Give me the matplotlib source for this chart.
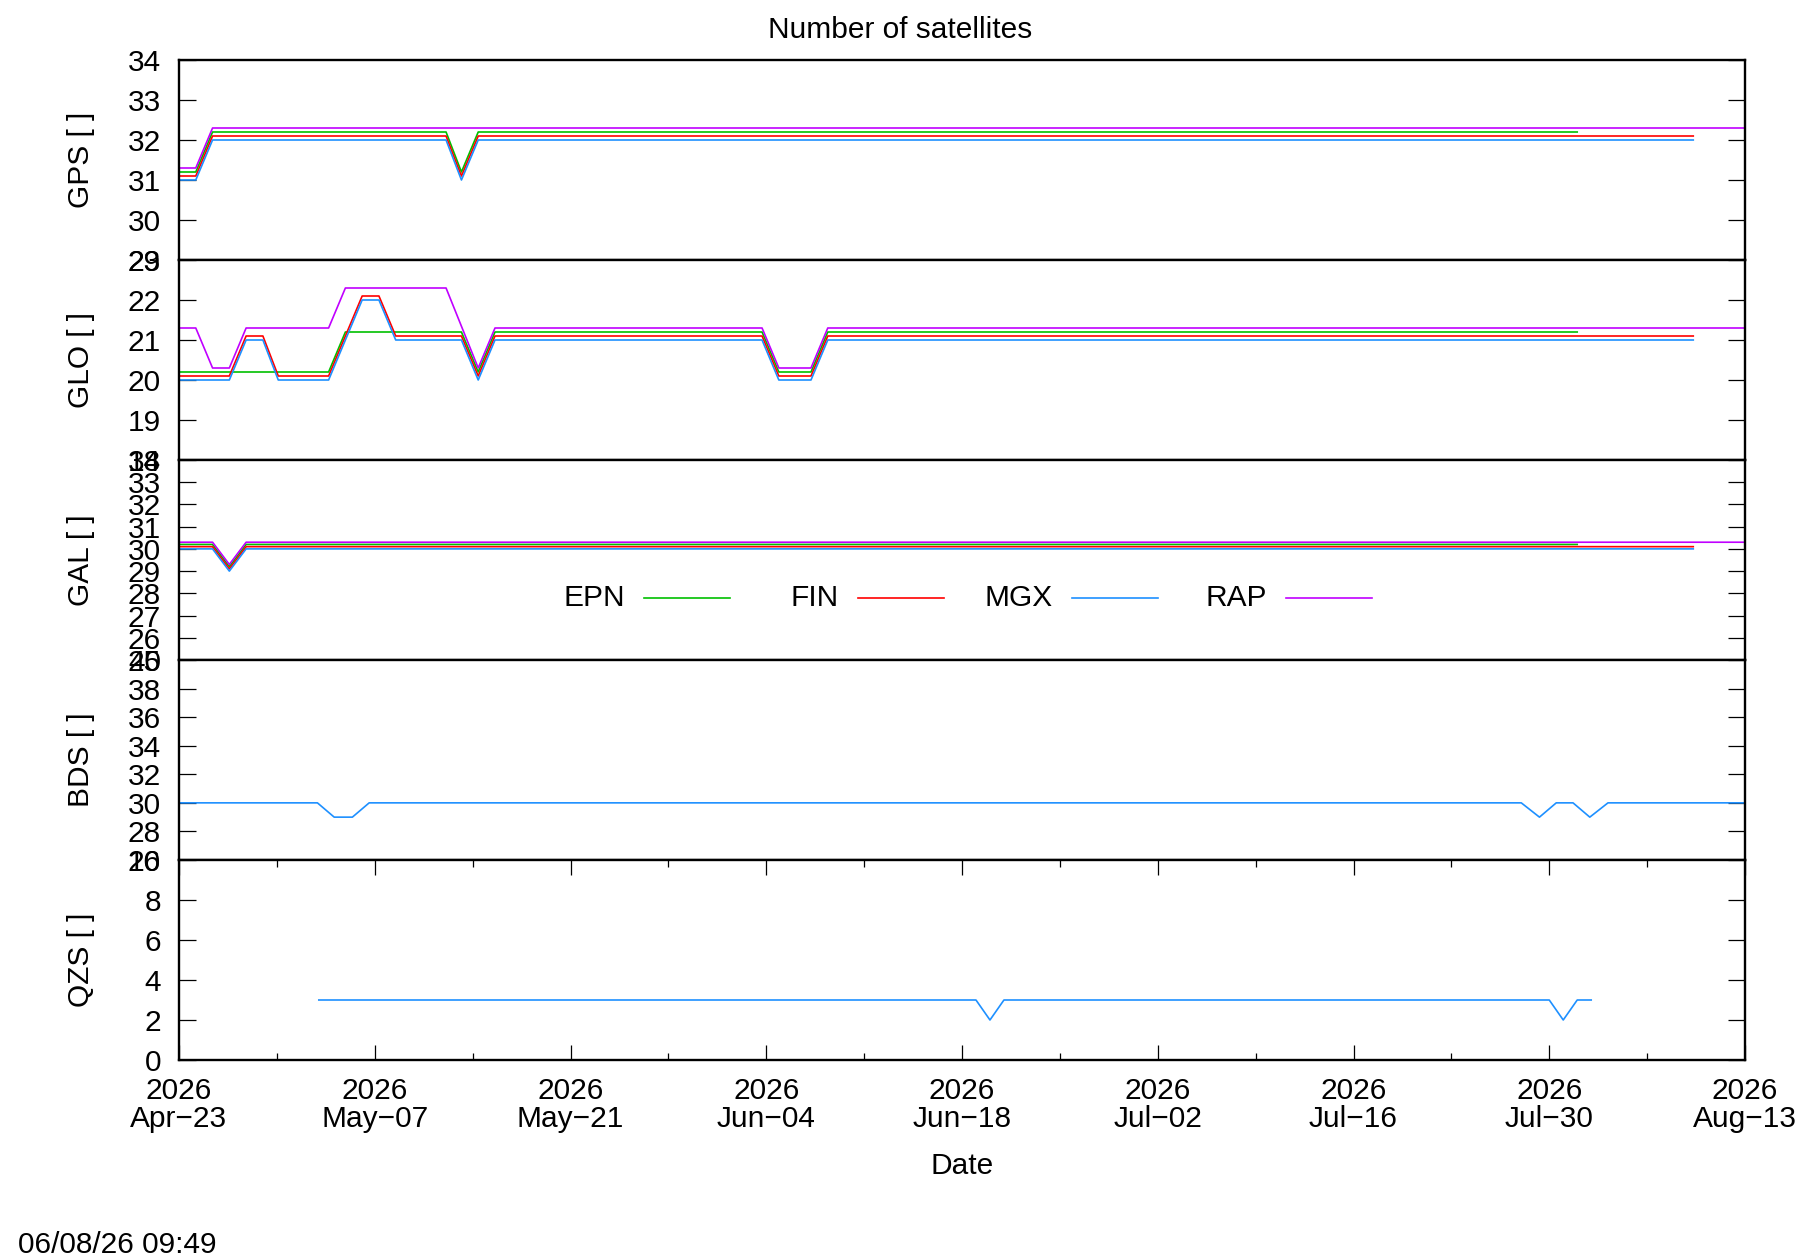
import datetime as dt
import matplotlib
matplotlib.use("Agg")
import matplotlib.pyplot as plt
import matplotlib.dates as mdates
from matplotlib.lines import Line2D

plt.rcParams['font.family'] = ['Liberation Sans', 'DejaVu Sans']

START = dt.datetime(2026, 4, 23)
END = dt.datetime(2026, 8, 13)

PRODUCTS = ["EPN", "FIN", "MGX", "RAP"]
COLORS = {"EPN": "#00c000", "FIN": "#ff0000", "MGX": "#1e90ff", "RAP": "#c000ff"}
# small vertical shift per product, so the lines do not hide each other
OFFSETS = {"EPN": 0.2, "FIN": 0.1, "MGX": 0.0, "RAP": 0.3}

# days since START / number of satellites (only the break points)
GPS_MGX_DAYS = [0, 1.2, 2.4, 19.1, 20.2, 21.4, 108.3]
GPS_MGX_VALS = [31, 31, 32, 32, 31, 32, 32]
GPS_FIN_DAYS = [0, 1.2, 2.4, 19.1, 20.2, 21.4, 108.3]
GPS_FIN_VALS = [31, 31, 32, 32, 31, 32, 32]
GPS_EPN_DAYS = [0, 1.2, 2.4, 19.1, 20.2, 21.4, 100.0]
GPS_EPN_VALS = [31, 31, 32, 32, 31, 32, 32]
GPS_RAP_DAYS = [0, 1.2, 2.4, 112]
GPS_RAP_VALS = [31, 31, 32, 32]

GLO_MGX_DAYS = [0, 3.6, 4.8, 6.0, 7.1, 10.7, 13.1, 14.3, 15.5, 20.2, 21.4, 22.6,
                41.7, 42.9, 45.2, 46.4, 108.3]
GLO_MGX_VALS = [20, 20, 21, 21, 20, 20, 22, 22, 21, 21, 20, 21, 21, 20, 20, 21, 21]
GLO_FIN_DAYS = [0, 3.6, 4.8, 6.0, 7.1, 10.7, 13.1, 14.3, 15.5, 20.2, 21.4, 22.6,
                41.7, 42.9, 45.2, 46.4, 108.3]
GLO_FIN_VALS = [20, 20, 21, 21, 20, 20, 22, 22, 21, 21, 20, 21, 21, 20, 20, 21, 21]
GLO_EPN_DAYS = [0, 10.7, 11.9, 20.2, 21.4, 22.6, 41.7, 42.9, 45.2, 46.4, 100.0]
GLO_EPN_VALS = [20, 20, 21, 21, 20, 21, 21, 20, 20, 21, 21]
GLO_RAP_DAYS = [0, 1.2, 2.4, 3.6, 4.8, 10.7, 11.9, 19.1, 21.4, 22.6,
                41.7, 42.9, 45.2, 46.4, 112]
GLO_RAP_VALS = [21, 21, 20, 20, 21, 21, 22, 22, 20, 21, 21, 20, 20, 21, 21]

GAL_MGX_DAYS = [0, 2.4, 3.6, 4.8, 108.3]
GAL_MGX_VALS = [30, 30, 29, 30, 30]
GAL_FIN_DAYS = [0, 2.4, 3.6, 4.8, 108.3]
GAL_FIN_VALS = [30, 30, 29, 30, 30]
GAL_EPN_DAYS = [0, 2.4, 3.6, 4.8, 100.0]
GAL_EPN_VALS = [30, 30, 29, 30, 30]
GAL_RAP_DAYS = [0, 2.4, 3.6, 4.8, 112]
GAL_RAP_VALS = [30, 30, 29, 30, 30]

BDS_MGX_DAYS = [0, 9.9, 11.1, 12.4, 13.6, 96.0, 97.3, 98.5, 99.7, 100.9, 102.2, 112]
BDS_MGX_VALS = [30, 30, 29, 29, 30, 30, 29, 30, 30, 29, 30, 30]

QZS_MGX_DAYS = [10, 57, 58, 59, 98, 99, 100, 101]
QZS_MGX_VALS = [3, 3, 2, 3, 3, 2, 3, 3]

PANELS = [
    ("GPS", (29, 34), 1, {"EPN": (GPS_EPN_DAYS, GPS_EPN_VALS), "FIN": (GPS_FIN_DAYS, GPS_FIN_VALS),
                          "MGX": (GPS_MGX_DAYS, GPS_MGX_VALS), "RAP": (GPS_RAP_DAYS, GPS_RAP_VALS)}),
    ("GLO", (18, 23), 1, {"EPN": (GLO_EPN_DAYS, GLO_EPN_VALS), "FIN": (GLO_FIN_DAYS, GLO_FIN_VALS),
                          "MGX": (GLO_MGX_DAYS, GLO_MGX_VALS), "RAP": (GLO_RAP_DAYS, GLO_RAP_VALS)}),
    ("GAL", (25, 34), 1, {"EPN": (GAL_EPN_DAYS, GAL_EPN_VALS), "FIN": (GAL_FIN_DAYS, GAL_FIN_VALS),
                          "MGX": (GAL_MGX_DAYS, GAL_MGX_VALS), "RAP": (GAL_RAP_DAYS, GAL_RAP_VALS)}),
    ("BDS", (26, 40), 2, {"MGX": (BDS_MGX_DAYS, BDS_MGX_VALS)}),
    ("QZS", (0, 10), 2, {"MGX": (QZS_MGX_DAYS, QZS_MGX_VALS)}),
]

FS = 21.5
W, H = 1800, 1260
LEFT, RIGHT = 179, 1745
TOP, PANEL_H = 60, 200
LW = 1.2


def to_dates(days):
    return [START + dt.timedelta(days=d) for d in days]


fig = plt.figure(figsize=(18, 12.6), dpi=100)
axes = []
for i, (name, ylim, step, series) in enumerate(PANELS):
    y0 = TOP + (i + 1) * PANEL_H
    ax = fig.add_axes([LEFT / W, 1 - y0 / H, (RIGHT - LEFT) / W, PANEL_H / H])
    for prod in PRODUCTS:
        if prod not in series:
            continue
        days, vals = series[prod]
        ax.plot(to_dates(days), [v + OFFSETS[prod] for v in vals],
                color=COLORS[prod], lw=LW, label=prod)
    ax.set_xlim(START, END)
    ax.set_ylim(*ylim)
    ax.set_yticks(list(range(ylim[0], ylim[1] + 1, step)))
    ax.tick_params(axis='y', direction='in', length=12, width=0.9, right=True,
                   labelsize=FS, pad=13)
    for sp in ax.spines.values():
        sp.set_linewidth(1.7)
    fig.text(81 / W, 1 - (y0 - PANEL_H / 2) / H, name + " [ ]", rotation=90,
             ha='center', va='center', fontsize=FS)
    axes.append(ax)

majors = [START + dt.timedelta(days=14 * i) for i in range(9)]
minors = [START + dt.timedelta(days=7 + 14 * i) for i in range(8)]
for ax in axes[:-1]:
    ax.set_xticks(majors)
    ax.tick_params(axis='x', which='both', bottom=False, top=False, labelbottom=False)

ax = axes[-1]
ax.set_xticks(majors)
ax.set_xticks(minors, minor=True)
ax.xaxis.set_major_formatter(mdates.DateFormatter("%Y\n%b\u2212%d"))
ax.tick_params(axis='x', which='major', direction='in', length=11, width=0.9,
               top=True, labelsize=FS, pad=12)
ax.tick_params(axis='x', which='minor', direction='in', length=5, width=0.9, top=True)
for lab in ax.get_xticklabels():
    lab.set_linespacing(1.0)

# gnuplot style key: fixed-width columns, text right-aligned before the sample
key_y = 1 - 598 / H
for i, prod in enumerate(PRODUCTS):
    x0 = 644 + 214 * i
    fig.add_artist(Line2D([x0 / W, (x0 + 86) / W], [key_y, key_y],
                          color=COLORS[prod], lw=LW, transform=fig.transFigure))
    fig.text((x0 - 19) / W, key_y, prod, ha='right', va='center', fontsize=FS)

fig.text(0.5, 1 - 30 / H, "Number of satellites", ha='center', va='center', fontsize=FS)
fig.text(962 / W, 1 - 1166 / H, "Date", ha='center', va='center', fontsize=FS)
fig.text(18 / W, 1 - 1245 / H, "06/08/26 09:49", ha='left', va='center', fontsize=FS)

fig.savefig("out.png", dpi=100)
